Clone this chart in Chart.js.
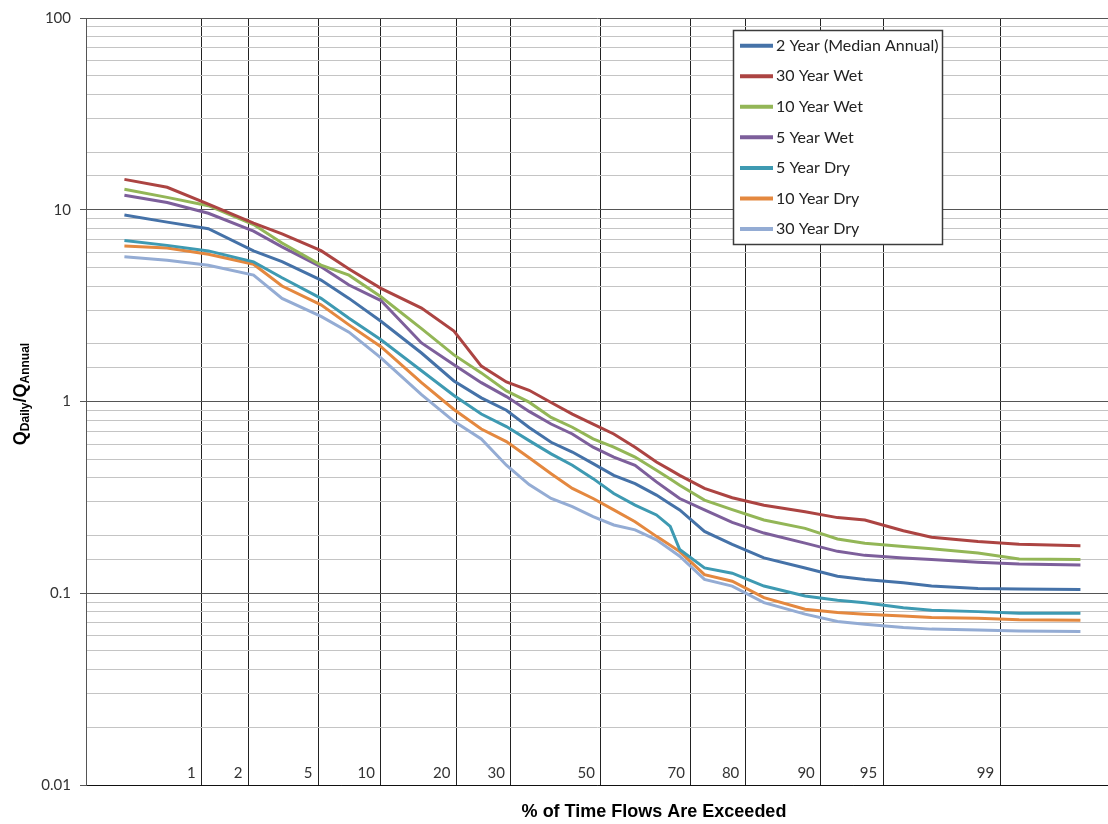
<!DOCTYPE html>
<html>
<head>
<meta charset="utf-8">
<script src="https://cdn.jsdelivr.net/npm/chart.js@4.4.1/dist/chart.umd.min.js"></script>
<style>
  html, body { margin: 0; padding: 0; background: #fff; }
  #wrap { position: relative; width: 1108px; height: 824px; }
</style>
</head>
<body>
<div id="wrap"><canvas id="chart-flow"></canvas></div>
<script>
// % of time exceeded (shared x for all curves)
const exceedancePct = [0.275, 0.575, 1.11, 2.15, 3.16, 5.15, 7.11, 10.0, 14.8, 19.6, 24.3, 29.1, 33.8, 38.6, 43.4, 48.2, 53.0, 57.9, 62.7, 65.7, 67.7, 72.7, 77.8, 82.9, 88.3, 91.6, 93.8, 96.1, 97.3, 98.6, 99.26, 99.74];

// Q daily / Q annual
const twoYearMedian = [9.40, 8.62, 7.96, 6.10, 5.37, 4.30, 3.45, 2.62, 1.79, 1.28, 1.045, 0.901, 0.732, 0.613, 0.545, 0.474, 0.412, 0.373, 0.325, 0.292, 0.272, 0.210, 0.180, 0.153, 0.1355, 0.1227, 0.118, 0.1133, 0.109, 0.106, 0.1051, 0.1047];
const thirtyYearWet = [14.4, 13.1, 10.7, 8.51, 7.49, 6.12, 4.91, 3.89, 3.07, 2.33, 1.53, 1.265, 1.144, 0.988, 0.860, 0.763, 0.677, 0.578, 0.483, 0.44, 0.412, 0.352, 0.315, 0.288, 0.266, 0.248, 0.241, 0.212, 0.196, 0.186, 0.180, 0.177];
const tenYearWet = [12.8, 11.6, 10.5, 8.37, 6.71, 5.14, 4.56, 3.52, 2.40, 1.75, 1.41, 1.136, 0.992, 0.826, 0.734, 0.638, 0.578, 0.513, 0.438, 0.394, 0.366, 0.306, 0.273, 0.241, 0.218, 0.192, 0.1825, 0.1755, 0.1708, 0.162, 0.151, 0.150];
const fiveYearWet = [11.9, 10.9, 9.59, 7.74, 6.40, 5.04, 4.05, 3.36, 2.02, 1.554, 1.254, 1.061, 0.888, 0.763, 0.677, 0.578, 0.513, 0.465, 0.381, 0.338, 0.312, 0.272, 0.234, 0.206, 0.1825, 0.1654, 0.1576, 0.1527, 0.1498, 0.145, 0.1421, 0.1405];
const fiveYearDry = [6.92, 6.52, 6.10, 5.35, 4.42, 3.45, 2.72, 2.10, 1.447, 1.074, 0.860, 0.740, 0.625, 0.533, 0.465, 0.396, 0.331, 0.288, 0.256, 0.223, 0.169, 0.1355, 0.1272, 0.109, 0.0967, 0.0919, 0.0893, 0.0841, 0.0815, 0.0802, 0.0787, 0.0787];
const tenYearDry = [6.47, 6.32, 5.86, 5.20, 4.00, 3.19, 2.51, 1.93, 1.254, 0.909, 0.719, 0.618, 0.509, 0.420, 0.352, 0.312, 0.272, 0.236, 0.198, 0.178, 0.165, 0.125, 0.1156, 0.0948, 0.0825, 0.0793, 0.0778, 0.0762, 0.0747, 0.0741, 0.0727, 0.0724];
const thirtyYearDry = [5.68, 5.45, 5.14, 4.56, 3.45, 2.78, 2.30, 1.69, 1.087, 0.788, 0.638, 0.465, 0.369, 0.312, 0.283, 0.251, 0.227, 0.214, 0.190, 0.169, 0.156, 0.118, 0.109, 0.0893, 0.0778, 0.0712, 0.069, 0.0663, 0.065, 0.0643, 0.0635, 0.0632];

const seriesLabels = ["2 Year (Median Annual)", "30 Year Wet", "10 Year Wet", "5 Year Wet", "5 Year Dry", "10 Year Dry", "30 Year Dry"];
const seriesValues = [twoYearMedian, thirtyYearWet, tenYearWet, fiveYearWet, fiveYearDry, tenYearDry, thirtyYearDry];
const seriesColors = ["#4572A8", "#AC4442", "#93B657", "#7D5F9B", "#3E9AB2", "#E4883F", "#94ACD4"];

// probability axis ticks (percent) and log axis labels
const xTickPct = [1, 2, 5, 10, 20, 30, 50, 70, 80, 90, 95, 99];
const yTickValues = [0.01, 0.1, 1, 10, 100];

// normal probability axis: plotted in standard normal units
const X_MIN_Z = -3.0;
const X_MAX_Z = 2.955;

// inverse standard normal CDF (Acklam)
function probit(p) {
  const a = [-3.969683028665376e+01, 2.209460984245205e+02, -2.759285104469687e+02, 1.383577518672690e+02, -3.066479806614716e+01, 2.506628277459239e+00];
  const b = [-5.447609879822406e+01, 1.615858368580409e+02, -1.556989798598866e+02, 6.680131188771972e+01, -1.328068155288572e+01];
  const c = [-7.784894002430293e-03, -3.223964580411365e-01, -2.400758277161838e+00, -2.549732539343734e+00, 4.374664141464968e+00, 2.938163982698783e+00];
  const d = [7.784695709041462e-03, 3.224671290700398e-01, 2.445134137142996e+00, 3.754408661907416e+00];
  const plow = 0.02425;
  let q, r;
  if (p < plow) {
    q = Math.sqrt(-2 * Math.log(p));
    return (((((c[0] * q + c[1]) * q + c[2]) * q + c[3]) * q + c[4]) * q + c[5]) /
      ((((d[0] * q + d[1]) * q + d[2]) * q + d[3]) * q + 1);
  }
  if (p <= 1 - plow) {
    q = p - 0.5;
    r = q * q;
    return (((((a[0] * r + a[1]) * r + a[2]) * r + a[3]) * r + a[4]) * r + a[5]) * q /
      (((((b[0] * r + b[1]) * r + b[2]) * r + b[3]) * r + b[4]) * r + 1);
  }
  q = Math.sqrt(-2 * Math.log(1 - p));
  return -(((((c[0] * q + c[1]) * q + c[2]) * q + c[3]) * q + c[4]) * q + c[5]) /
    ((((d[0] * q + d[1]) * q + d[2]) * q + d[3]) * q + 1);
}
const pctToZ = (pct) => probit(pct / 100);

const isDecade = (v) => yTickValues.some((t) => Math.abs(t - v) / t < 1e-6);

const datasets = seriesValues.map((values, i) => ({
  label: seriesLabels[i],
  data: values.map((v, j) => ({ x: pctToZ(exceedancePct[j]), y: v })),
  borderColor: seriesColors[i],
  backgroundColor: seriesColors[i],
  borderWidth: 3,
  pointRadius: 0,
  tension: 0,
  fill: false,
}));

// percent labels sitting just inside the bottom of the plot, left of each line
const xLabelPlugin = {
  id: "xLabels",
  afterDraw(chart) {
    const { ctx, chartArea, scales } = chart;
    ctx.save();
    ctx.font = '15px Lato';
    ctx.fillStyle = "#333";
    ctx.textAlign = "right";
    ctx.textBaseline = "alphabetic";
    for (const p of xTickPct) {
      const px = scales.x.getPixelForValue(pctToZ(p));
      ctx.fillText(String(p), px - 6, chartArea.bottom - 7);
    }
    ctx.restore();
  },
};

// Q_Daily / Q_Annual rotated title with subscripts
const yTitlePlugin = {
  id: "yTitle",
  afterDraw(chart) {
    const { ctx } = chart;
    const parts = [
      { t: "Q", sub: false },
      { t: "Daily", sub: true },
      { t: "/", sub: false },
      { t: "Q", sub: false },
      { t: "Annual", sub: true },
    ];
    const mainFont = 'bold 18px "Liberation Sans", Arial, sans-serif';
    const subFont = 'bold 12px "Liberation Sans", Arial, sans-serif';
    ctx.save();
    let total = 0;
    for (const p of parts) {
      ctx.font = p.sub ? subFont : mainFont;
      p.w = ctx.measureText(p.t).width;
      total += p.w;
    }
    ctx.translate(26, 394);
    ctx.rotate(-Math.PI / 2);
    ctx.fillStyle = "#000";
    ctx.textBaseline = "alphabetic";
    ctx.textAlign = "left";
    let x = -total / 2;
    for (const p of parts) {
      ctx.font = p.sub ? subFont : mainFont;
      ctx.fillText(p.t, x, p.sub ? 3 : 0);
      x += p.w;
    }
    ctx.restore();
  },
};

const xTitlePlugin = {
  id: "xTitle",
  afterDraw(chart) {
    const { ctx } = chart;
    ctx.save();
    ctx.font = 'bold 18px "Liberation Sans", Arial, sans-serif';
    ctx.fillStyle = "#000";
    ctx.textAlign = "center";
    ctx.textBaseline = "middle";
    ctx.fillText("% of Time Flows Are Exceeded", 654, 812);
    ctx.restore();
  },
};

// boxed legend inside the plot, upper right
const legendBoxPlugin = {
  id: "legendBox",
  afterDatasetsDraw(chart) {
    const { ctx } = chart;
    const box = { x: 733, y: 30, w: 210, h: 215 };
    ctx.save();
    ctx.fillStyle = "#fff";
    ctx.fillRect(box.x, box.y, box.w, box.h);
    ctx.strokeStyle = "#3c3c3c";
    ctx.lineWidth = 1.5;
    ctx.strokeRect(box.x + 0.5, box.y + 0.5, box.w - 1, box.h - 1);
    ctx.font = '16px Lato';
    ctx.textBaseline = "middle";
    ctx.textAlign = "left";
    chart.data.datasets.forEach((ds, i) => {
      const yy = box.y + 15.7 + i * 30.55;
      ctx.strokeStyle = ds.borderColor;
      ctx.lineWidth = 4;
      ctx.beginPath();
      ctx.moveTo(box.x + 7, yy);
      ctx.lineTo(box.x + 40, yy);
      ctx.stroke();
      ctx.fillStyle = "#222";
      ctx.fillText(ds.label, box.x + 43, yy);
    });
    ctx.restore();
  },
};

new Chart(document.getElementById("chart-flow"), {
  type: "line",
  data: { datasets },
  options: {
    responsive: true,
    maintainAspectRatio: false,
    animation: false,
    layout: { padding: { top: 12, right: 0, bottom: 0, left: 0 } },
    plugins: {
      legend: { display: false },
      tooltip: { enabled: false },
    },
    scales: {
      x: {
        type: "linear",
        min: X_MIN_Z,
        max: X_MAX_Z,
        afterBuildTicks: (scale) => {
          scale.ticks = xTickPct.map((p) => ({ value: pctToZ(p) }));
        },
        afterFit: (scale) => { scale.height = 39; },
        ticks: { display: false },
        grid: { color: "#222", lineWidth: 1, drawTicks: false },
        border: { color: "#111", width: 1 },
      },
      y: {
        type: "logarithmic",
        min: 0.01,
        max: 100,
        afterFit: (scale) => { scale.width = 86; },
        ticks: {
          autoSkip: false,
          padding: 9,
          color: "#333",
          font: { family: "Lato", size: 15 },
          callback: (v) => (isDecade(v) ? String(+Number(v).toPrecision(3)) : ""),
        },
        grid: {
          lineWidth: 1,
          tickLength: 6,
          color: (c) => (c.tick && isDecade(c.tick.value) ? "#555" : "#c4c4c4"),
          tickColor: (c) => (c.tick && isDecade(c.tick.value) ? "#555" : "rgba(0,0,0,0)"),
        },
        border: { color: "#555", width: 1 },
      },
    },
  },
  plugins: [xLabelPlugin, yTitlePlugin, xTitlePlugin, legendBoxPlugin],
});
</script>
</body>
</html>
